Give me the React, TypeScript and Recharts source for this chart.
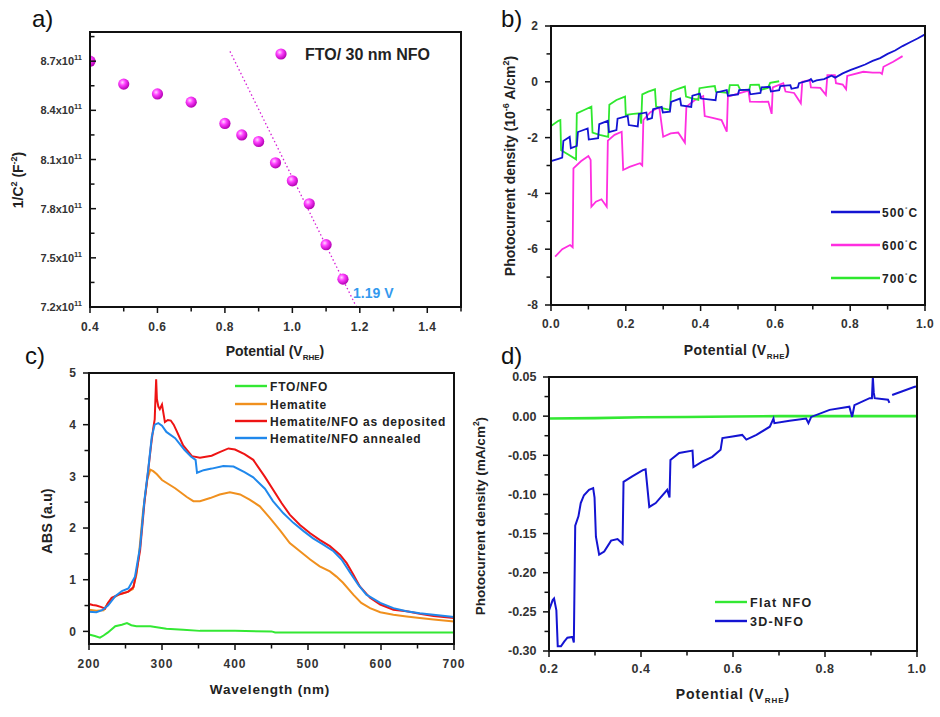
import React from 'react';
import { ComposedChart, LineChart, Line, Scatter, XAxis, YAxis } from 'recharts';

const FONT = '"Liberation Sans", Arial, sans-serif';

// ---------------- Panel a : Mott-Schottky ----------------
const aPotential = [0.4, 0.5, 0.6, 0.7, 0.8, 0.85, 0.9, 0.95, 1.0, 1.05, 1.1, 1.15];
const aInvC2 = [8.70e11, 8.56e11, 8.50e11, 8.45e11, 8.32e11, 8.25e11, 8.21e11, 8.08e11, 7.97e11, 7.83e11, 7.58e11, 7.37e11];
const aFitPotential = [0.815, 1.19];
const aFitInvC2 = [8.76e11, 7.2e11];
const aXMajor = [0.4, 0.6, 0.8, 1.0, 1.2, 1.4];
const aXMinor = [0.5, 0.7, 0.9, 1.1, 1.3, 1.5];
const aYMajor = [7.2e11, 7.5e11, 7.8e11, 8.1e11, 8.4e11, 8.7e11];
const aYMinor = [7.35e11, 7.65e11, 7.95e11, 8.25e11, 8.55e11, 8.85e11];

// ---------------- Panel b : chopped photocurrent (1e-6 A/cm2) ----------------
const b500: number[][] = [
  [0, -2.84], [0.02, -2.76], [0.03, -2.72], [0.033, -2.12], [0.05, -1.97], [0.053, -2.38], [0.069, -2.3],
  [0.072, -1.8], [0.098, -1.67], [0.101, -2.07], [0.126, -2.02], [0.129, -1.52], [0.152, -1.4], [0.155, -1.8],
  [0.175, -1.73], [0.178, -1.32], [0.205, -1.22], [0.208, -1.55], [0.232, -1.6], [0.235, -1.15], [0.255, -1.1],
  [0.258, -1.35], [0.27, -1.3], [0.273, -0.98], [0.296, -0.9], [0.299, -1.1], [0.318, -1.07], [0.321, -0.72],
  [0.345, -0.6], [0.348, -0.85], [0.375, -0.9], [0.378, -0.5], [0.398, -0.42], [0.401, -0.6], [0.44, -0.66],
  [0.443, -0.38], [0.47, -0.3], [0.473, -0.5], [0.5, -0.45], [0.503, -0.3], [0.53, -0.28], [0.533, -0.45],
  [0.56, -0.4], [0.563, -0.2], [0.585, -0.18], [0.588, -0.35], [0.61, -0.3], [0.613, -0.15], [0.64, -0.12],
  [0.643, -0.25], [0.66, -0.2], [0.663, -0.05], [0.69, 0.05], [0.695, 0.1], [0.7, 0.0], [0.71, 0.05],
  [0.73, 0.1], [0.75, 0.22], [0.76, 0.15], [0.78, 0.3], [0.8, 0.42], [0.82, 0.52], [0.84, 0.62], [0.86, 0.75],
  [0.88, 0.85], [0.9, 1.0], [0.92, 1.12], [0.94, 1.28], [0.96, 1.42], [0.98, 1.55], [1.0, 1.7],
];
const b600: number[][] = [
  [0.011, -6.27], [0.03, -6.0], [0.051, -5.85], [0.058, -5.93], [0.06, -3.1], [0.08, -2.85], [0.1, -2.66],
  [0.106, -2.8], [0.108, -4.48], [0.12, -4.3], [0.135, -4.21], [0.149, -4.48], [0.152, -2.11], [0.17, -1.9],
  [0.189, -1.79], [0.193, -3.16], [0.21, -3.05], [0.238, -2.92], [0.244, -3.0], [0.247, -1.37], [0.265, -1.1],
  [0.283, -0.95], [0.29, -0.95], [0.3, -1.97], [0.32, -1.85], [0.34, -1.82], [0.358, -2.18], [0.362, -0.89],
  [0.385, -0.65], [0.407, -0.51], [0.411, -1.23], [0.435, -1.3], [0.456, -1.37], [0.47, -1.79], [0.473, -0.53],
  [0.5, -0.42], [0.528, -0.32], [0.532, -0.71], [0.56, -0.72], [0.581, -0.71], [0.59, -1.15], [0.593, -0.2],
  [0.621, -0.05], [0.627, -0.35], [0.65, -0.4], [0.668, -0.77], [0.672, 0.0], [0.692, 0.06], [0.695, -0.2],
  [0.72, -0.22], [0.735, -0.47], [0.739, 0.24], [0.759, 0.24], [0.762, -0.05], [0.78, -0.1], [0.789, -0.27],
  [0.792, 0.21], [0.835, 0.36], [0.86, 0.33], [0.88, 0.33], [0.885, 0.28], [0.889, 0.54], [0.915, 0.72], [0.94, 0.92],
];
const b700: number[][] = [
  [0, -1.58], [0.02, -1.4], [0.025, -1.37], [0.027, -2.45], [0.045, -2.6], [0.067, -2.78], [0.069, -1.13],
  [0.09, -1.0], [0.108, -0.89], [0.111, -1.82], [0.13, -1.9], [0.153, -1.97], [0.156, -0.82], [0.175, -0.65],
  [0.198, -0.53], [0.2, -1.19], [0.22, -1.15], [0.238, -1.13], [0.241, -1.5], [0.244, -0.45], [0.26, -0.35],
  [0.278, -0.27], [0.281, -0.89], [0.3, -0.95], [0.318, -1.01], [0.321, -0.35], [0.34, -0.25], [0.358, -0.17],
  [0.361, -0.53], [0.38, -0.6], [0.394, -0.65], [0.397, -0.23], [0.42, -0.18], [0.438, -0.15], [0.441, -0.35],
  [0.46, -0.38], [0.475, -0.4], [0.478, -0.12], [0.5, -0.12], [0.506, -0.29], [0.53, -0.3], [0.533, -0.11],
  [0.556, -0.1], [0.56, -0.29], [0.58, -0.22], [0.586, -0.04], [0.61, 0.02],
];
const bXMajor = [0, 0.2, 0.4, 0.6, 0.8, 1.0];
const bXMinor = [0.1, 0.3, 0.5, 0.7, 0.9];
const bYMajor = [-8, -6, -4, -2, 0, 2];
const bYMinor = [-7, -5, -3, -1, 1];

// ---------------- Panel c : absorbance ----------------
const cFtoNfo: number[][] = [
  [200, -0.06], [208, -0.09], [215, -0.12], [220, -0.08], [226, -0.02], [236, 0.1], [245, 0.13], [252, 0.16],
  [258, 0.12], [265, 0.1], [284, 0.1], [306, 0.05], [329, 0.03], [352, 0.01], [400, 0.01], [450, 0.0],
  [455, -0.02], [535, -0.02], [600, -0.02], [700, -0.02],
];
const cHematite: number[][] = [
  [200, 0.42], [210, 0.4], [220, 0.41], [226, 0.55], [233, 0.65], [242, 0.72], [252, 0.76], [260, 0.82],
  [265, 1.1], [268, 1.42], [274, 2.32], [280, 2.95], [284, 3.13], [288, 3.1], [293, 3.04], [300, 2.93],
  [318, 2.77], [334, 2.6], [343, 2.52], [352, 2.52], [366, 2.58], [379, 2.65], [393, 2.69], [407, 2.65],
  [420, 2.55], [434, 2.42], [448, 2.19], [462, 1.95], [475, 1.71], [489, 1.55], [503, 1.39], [516, 1.26],
  [530, 1.16], [539, 1.06], [548, 0.94], [562, 0.71], [573, 0.55], [585, 0.45], [599, 0.37], [617, 0.32],
  [635, 0.29], [653, 0.26], [672, 0.23], [700, 0.19],
];
const cAsDeposited: number[][] = [
  [200, 0.53], [205, 0.51], [210, 0.5], [217, 0.47], [222, 0.44], [226, 0.55], [231, 0.65], [242, 0.72],
  [254, 0.77], [261, 0.86], [265, 1.15], [270, 1.57], [276, 2.5], [281, 3.1], [285, 3.6], [288, 3.93],
  [290, 4.1], [291, 4.5], [292, 4.88], [293, 4.5], [295, 4.35], [297, 4.3], [300, 4.39], [304, 4.05],
  [308, 4.09], [312, 4.08], [316, 4.0], [320, 3.88], [329, 3.6], [341, 3.39], [352, 3.36], [368, 3.4],
  [379, 3.47], [391, 3.54], [400, 3.52], [413, 3.43], [425, 3.32], [441, 2.99], [464, 2.48], [475, 2.26],
  [489, 2.06], [503, 1.9], [516, 1.77], [530, 1.65], [544, 1.48], [553, 1.32], [562, 1.1], [571, 0.87],
  [585, 0.65], [599, 0.52], [617, 0.42], [635, 0.39], [653, 0.34], [672, 0.3], [700, 0.26],
];
const cAnnealed: number[][] = [
  [200, 0.38], [210, 0.37], [218, 0.41], [226, 0.5], [236, 0.68], [245, 0.78], [254, 0.83], [263, 1.06],
  [270, 1.64], [276, 2.55], [281, 3.12], [286, 3.77], [290, 4.0], [295, 4.03], [300, 3.98], [306, 3.86],
  [318, 3.74], [331, 3.51], [340, 3.38], [346, 3.32], [348, 3.07], [357, 3.12], [368, 3.15], [384, 3.2],
  [398, 3.19], [413, 3.08], [425, 2.98], [441, 2.76], [452, 2.52], [466, 2.29], [480, 2.1], [494, 1.94],
  [507, 1.8], [521, 1.68], [535, 1.55], [546, 1.39], [558, 1.13], [569, 0.9], [580, 0.71], [599, 0.55],
  [617, 0.45], [635, 0.39], [653, 0.35], [672, 0.32], [700, 0.28],
];
const cXMajor = [200, 300, 400, 500, 600, 700];
const cXMinor = [250, 350, 450, 550, 650];
const cYMajor = [0, 1, 2, 3, 4, 5];
const cYMinor = [0.5, 1.5, 2.5, 3.5, 4.5];

// ---------------- Panel d : flat vs 3D (mA/cm2) ----------------
const dFlat: number[][] = [
  [0.2, -0.003], [0.3, -0.0025], [0.4, -0.0015], [0.5, -0.001], [0.6, -0.0005], [0.7, 0.0], [0.8, 0.0], [0.9, 0.0], [1.0, 0.0],
];
const d3D: (number | null)[][] = [
  [0.2, -0.248], [0.208, -0.235], [0.211, -0.233], [0.216, -0.248], [0.219, -0.294], [0.226, -0.294],
  [0.233, -0.288], [0.24, -0.283], [0.251, -0.282], [0.254, -0.289], [0.257, -0.14], [0.264, -0.128],
  [0.269, -0.111], [0.276, -0.101], [0.287, -0.094], [0.296, -0.092], [0.299, -0.104], [0.302, -0.154],
  [0.309, -0.177], [0.32, -0.173], [0.335, -0.159], [0.349, -0.157], [0.36, -0.163], [0.362, -0.084],
  [0.381, -0.077], [0.404, -0.069], [0.41, -0.068], [0.418, -0.116], [0.432, -0.111], [0.457, -0.094],
  [0.462, -0.104], [0.464, -0.056], [0.483, -0.047], [0.512, -0.044], [0.514, -0.065], [0.533, -0.058],
  [0.555, -0.052], [0.573, -0.043], [0.577, -0.028], [0.599, -0.026], [0.62, -0.024], [0.629, -0.03],
  [0.651, -0.024], [0.68, -0.0135], [0.688, -0.003], [0.69, -0.009], [0.723, -0.006], [0.759, -0.003],
  [0.764, -0.009], [0.77, -0.001], [0.81, 0.008], [0.853, 0.012], [0.859, -0.001], [0.864, 0.014],
  [0.897, 0.023], [0.902, 0.023], [0.904, 0.05], [0.906, 0.03], [0.908, 0.023], [0.937, 0.021],
  [0.94, 0.017], [0.943, null], [0.946, 0.027], [0.995, 0.0376], [1.0, 0.038],
];
const dXMajor = [0.2, 0.4, 0.6, 0.8, 1.0];
const dXMinor = [0.3, 0.5, 0.7, 0.9];
const dYMajor = [-0.3, -0.25, -0.2, -0.15, -0.1, -0.05, 0, 0.05];
const dYMinor = [-0.275, -0.225, -0.175, -0.125, -0.075, -0.025, 0.025];

// ---------------- helpers ----------------
const pts = (arr: (number | null)[][]) => arr.map(([x, y]) => ({ x, y }));
const zip = (xs: number[], ys: number[]) => xs.map((x, i) => ({ x, y: ys[i] }));
const isIn = (arr: number[], v: number) => arr.some((m) => Math.abs(m - v) <= 1e-6 * Math.max(1, Math.abs(m)));
const sortAll = (a: number[], b: number[]) => [...a, ...b].sort((p, q) => p - q);
const fmtMajor = (majors: number[], f: (v: number) => string) => (v: number) => (isIn(majors, v) ? f(v) : '');

const TICK_STYLE = { fontFamily: FONT, fontWeight: 700, fontSize: 12, fill: '#333' };

type Box = { l: number; r: number; t: number; b: number; xd: number[]; yd: number[] };
const BOX_A: Box = { l: 90, r: 461, t: 32, b: 307, xd: [0.4, 1.5], yd: [7.2e11, 8.878e11] };
const BOX_B: Box = { l: 551, r: 925, t: 26, b: 305, xd: [0, 1], yd: [-8, 2] };
const BOX_C: Box = { l: 89, r: 454, t: 373, b: 644, xd: [200, 700], yd: [-0.244, 5] };
const BOX_D: Box = { l: 549, r: 917, t: 377, b: 651, xd: [0.2, 1.0], yd: [-0.3, 0.05] };

function ATick(props: any) {
  const x = Number(props.x);
  const y = Number(props.y);
  const v = Number(props.payload.value);
  if (!isIn(aYMajor, v)) return <g />;
  return (
    <text x={x} y={y + 4} textAnchor="end" fontFamily={FONT} fontWeight={700} fontSize={11} fill="#333">
      {(v / 1e11).toFixed(1)}x10<tspan dy={-5} fontSize={7.5}>11</tspan>
    </text>
  );
}

// ---------------- panels ----------------
function PanelA() {
  return (
    <ComposedChart data={zip(aPotential, aInvC2)} width={470} height={358} margin={{ top: 32, right: 9, bottom: 0, left: 0 }}>
      <XAxis dataKey="x" type="number" domain={BOX_A.xd} allowDataOverflow ticks={sortAll(aXMajor, aXMinor)} interval={0}
        tickSize={4} tickMargin={11} axisLine={false} tickLine={false} height={51}
        tick={{ ...TICK_STYLE, letterSpacing: 0.5 }} tickFormatter={fmtMajor(aXMajor, (v) => v.toFixed(1))} />
      <YAxis dataKey="y" type="number" domain={BOX_A.yd} allowDataOverflow ticks={sortAll(aYMajor, aYMinor)} interval={0}
        tickSize={4} tickMargin={4} axisLine={false} tickLine={false} width={90} tick={<ATick />} />
      <Line data={zip(aFitPotential, aFitInvC2)} dataKey="y" type="linear" stroke="#d61fd6" strokeWidth={1.3}
        strokeDasharray="1.5 2.5" dot={false} isAnimationActive={false} />
      <Scatter dataKey="y" isAnimationActive={false}
        shape={(p: any) => <circle cx={p.cx} cy={p.cy} r={5.6} fill="url(#ballGrad)" />} />
    </ComposedChart>
  );
}

function PanelB() {
  return (
    <LineChart data={pts(b500)} width={470} height={358} margin={{ top: 26, right: 15, bottom: 0, left: 0 }}>
      <XAxis dataKey="x" type="number" domain={BOX_B.xd} ticks={sortAll(bXMajor, bXMinor)} interval={0}
        tickSize={4} tickMargin={10.5} axisLine={false} tickLine={false} height={53}
        tick={{ ...TICK_STYLE, letterSpacing: 0.5 }} tickFormatter={fmtMajor(bXMajor, (v) => v.toFixed(1))} />
      <YAxis type="number" domain={BOX_B.yd} ticks={sortAll(bYMajor, bYMinor)} interval={0}
        tickSize={4} tickMargin={9} axisLine={false} tickLine={false} width={81}
        tick={TICK_STYLE} tickFormatter={fmtMajor(bYMajor, (v) => String(v))} />
      <Line data={pts(b600)} dataKey="y" type="linear" stroke="#ff2ee0" strokeWidth={1.8} dot={false} isAnimationActive={false} />
      <Line data={pts(b700)} dataKey="y" type="linear" stroke="#2ee82e" strokeWidth={1.8} dot={false} isAnimationActive={false} />
      <Line dataKey="y" type="linear" stroke="#1414d2" strokeWidth={1.8} dot={false} isAnimationActive={false} />
    </LineChart>
  );
}

function PanelC() {
  return (
    <LineChart width={470} height={359} margin={{ top: 15, right: 16, bottom: 0, left: 0 }}>
      <XAxis dataKey="x" type="number" domain={BOX_C.xd} ticks={sortAll(cXMajor, cXMinor)} interval={0}
        tickSize={4} tickMargin={11.5} axisLine={false} tickLine={false} height={73}
        tick={{ ...TICK_STYLE, letterSpacing: 1 }} tickFormatter={fmtMajor(cXMajor, (v) => String(v))} />
      <YAxis type="number" domain={BOX_C.yd} ticks={sortAll(cYMajor, cYMinor)} interval={0}
        tickSize={4} tickMargin={9} axisLine={false} tickLine={false} width={89}
        tick={TICK_STYLE} tickFormatter={fmtMajor(cYMajor, (v) => String(v))} />
      <Line data={pts(cFtoNfo)} dataKey="y" type="linear" stroke="#33e833" strokeWidth={2} dot={false} isAnimationActive={false} />
      <Line data={pts(cHematite)} dataKey="y" type="linear" stroke="#f0901e" strokeWidth={2} dot={false} isAnimationActive={false} />
      <Line data={pts(cAsDeposited)} dataKey="y" type="linear" stroke="#ee1414" strokeWidth={2} dot={false} isAnimationActive={false} />
      <Line data={pts(cAnnealed)} dataKey="y" type="linear" stroke="#2088ec" strokeWidth={2} dot={false} isAnimationActive={false} />
    </LineChart>
  );
}

function PanelD() {
  return (
    <LineChart data={pts(d3D)} width={470} height={359} margin={{ top: 19, right: 23, bottom: 0, left: 0 }}>
      <XAxis dataKey="x" type="number" domain={BOX_D.xd} ticks={sortAll(dXMajor, dXMinor)} interval={0}
        tickSize={4} tickMargin={9.5} axisLine={false} tickLine={false} height={66}
        tick={{ ...TICK_STYLE, fontSize: 12.5, letterSpacing: 0.5 }} tickFormatter={fmtMajor(dXMajor, (v) => v.toFixed(1))} />
      <YAxis type="number" domain={BOX_D.yd} ticks={sortAll(dYMajor, dYMinor)} interval={0}
        tickSize={4} tickMargin={8.5} axisLine={false} tickLine={false} width={79}
        tick={{ ...TICK_STYLE, fontSize: 12.5 }} tickFormatter={fmtMajor(dYMajor, (v) => v.toFixed(2))} />
      <Line data={pts(dFlat)} dataKey="y" type="linear" stroke="#33e833" strokeWidth={2.6} dot={false} isAnimationActive={false} />
      <Line dataKey="y" type="linear" stroke="#1414d2" strokeWidth={2} dot={false} isAnimationActive={false} />
    </LineChart>
  );
}

// tick marks as small filled rectangles, placed from the tick value arrays
function TickMarks({ bx, xTicks, xMajors, yTicks, yMajors, yInward }: {
  bx: Box; xTicks: number[]; xMajors: number[]; yTicks: number[]; yMajors: number[]; yInward?: boolean;
}) {
  const sx = (v: number) => bx.l + ((v - bx.xd[0]) / (bx.xd[1] - bx.xd[0])) * (bx.r - bx.l);
  const sy = (v: number) => bx.b - ((v - bx.yd[0]) / (bx.yd[1] - bx.yd[0])) * (bx.b - bx.t);
  return (
    <g>
      {xTicks.map((v) => {
        const len = isIn(xMajors, v) ? 5 : 3.5;
        return <rect key={'x' + v} x={sx(v) - 0.75} y={bx.b} width={1.5} height={len + 1} fill="#111" />;
      })}
      {yTicks.map((v) => {
        const len = isIn(yMajors, v) ? 5 : 3.5;
        return (
          <rect key={'y' + v} x={yInward ? bx.l : bx.l - len - 1} y={sy(v) - 0.75} width={len + 1} height={1.5} fill="#111" />
        );
      })}
    </g>
  );
}

// plot frames as bordered boxes
function FrameBox({ bx }: { bx: Box }) {
  return (
    <div
      style={{
        position: 'absolute',
        left: bx.l - 1,
        top: bx.t - 1,
        width: bx.r - bx.l + 2,
        height: bx.b - bx.t + 2,
        border: '2px solid #111',
        boxSizing: 'border-box',
        pointerEvents: 'none',
      }}
    />
  );
}

const T = { fontFamily: FONT, fontWeight: 700, fill: '#222' } as const;

function Overlay() {
  const sub = (s: string) => (
    <tspan dy={4} fontSize={8}>
      {s}
    </tspan>
  );
  return (
    <svg width={940} height={717} style={{ position: 'absolute', left: 0, top: 0, pointerEvents: 'none' }}>
      <defs>
        <radialGradient id="ballGrad" cx="38%" cy="35%" r="65%">
          <stop offset="0%" stopColor="#ffd6ff" />
          <stop offset="40%" stopColor="#ff40ff" />
          <stop offset="100%" stopColor="#b400b4" />
        </radialGradient>
      </defs>
      {/* hide the part of the first point lying left of the frame, as in the reference */}
      <rect x={82} y={52} width={7.5} height={18} fill="#fff" />

      <TickMarks bx={BOX_A} xTicks={sortAll(aXMajor, aXMinor)} xMajors={aXMajor} yTicks={sortAll(aYMajor, aYMinor)} yMajors={aYMajor} yInward />
      <TickMarks bx={BOX_B} xTicks={sortAll(bXMajor, bXMinor)} xMajors={bXMajor} yTicks={sortAll(bYMajor, bYMinor)} yMajors={bYMajor} />
      <TickMarks bx={BOX_C} xTicks={sortAll(cXMajor, cXMinor)} xMajors={cXMajor} yTicks={sortAll(cYMajor, cYMinor)} yMajors={cYMajor} />
      <TickMarks bx={BOX_D} xTicks={sortAll(dXMajor, dXMinor)} xMajors={dXMajor} yTicks={sortAll(dYMajor, dYMinor)} yMajors={dYMajor} />

      <text x={32} y={27} fontFamily={FONT} fontSize={24} fill="#111">a)</text>
      <text x={501} y={27} fontFamily={FONT} fontSize={24} fill="#111">b)</text>
      <text x={25} y={364} fontFamily={FONT} fontSize={24} fill="#111">c)</text>
      <text x={501} y={364} fontFamily={FONT} fontSize={24} fill="#111">d)</text>

      <text {...T} fontSize={14} textAnchor="middle" transform="rotate(-90 23 180)" x={23} y={180}>
        1/C<tspan dy={-6} fontSize={9}>2</tspan>
        <tspan dy={6}> (F</tspan>
        <tspan dy={-6} fontSize={9}>-2</tspan>
        <tspan dy={6}>)</tspan>
      </text>
      <text {...T} fontSize={14} textAnchor="middle" x={275} y={356}>
        Potential (V{sub('RHE')}<tspan dy={-4}>)</tspan>
      </text>
      <circle cx={281} cy={54} r={5.6} fill="url(#ballGrad)" />
      <text {...T} fontSize={16} x={305} y={60}>FTO/ 30 nm NFO</text>
      <text fontFamily={FONT} fontWeight={700} fontSize={14} fill="#3399ee" x={353} y={298}>1.19 V</text>

      <text {...T} fontSize={14} textAnchor="middle" transform="rotate(-90 515 166)" x={515} y={166}>
        Photocurrent density (10<tspan dy={-6} fontSize={9}>-6</tspan>
        <tspan dy={6}> A/cm</tspan>
        <tspan dy={-6} fontSize={9}>2</tspan>
        <tspan dy={6}>)</tspan>
      </text>
      <text {...T} fontSize={14} textAnchor="middle" x={737} y={355} letterSpacing={0.5}>
        Potential (V{sub('RHE')}<tspan dy={-4}>)</tspan>
      </text>
      {[
        { c: '#1414d2', t: '500', y: 212 },
        { c: '#ff2ee0', t: '600', y: 245 },
        { c: '#2ee82e', t: '700', y: 278 },
      ].map((e) => (
        <g key={e.t}>
          <line x1={831} x2={880} y1={e.y} y2={e.y} stroke={e.c} strokeWidth={2.4} />
          <text {...T} fontSize={12} letterSpacing={1} x={882} y={e.y + 5}>
            {e.t}
            <tspan dy={-6} fontSize={6}>°</tspan>
            <tspan dy={6}>C</tspan>
          </text>
        </g>
      ))}

      <text {...T} fontSize={14.5} textAnchor="middle" transform="rotate(-90 52 521)" x={52} y={521}>
        ABS (a.u)
      </text>
      <text {...T} fontSize={13.5} textAnchor="middle" x={270} y={694} letterSpacing={0.8}>
        Wavelength (nm)
      </text>
      {[
        { c: '#33e833', t: 'FTO/NFO', y: 386 },
        { c: '#f0901e', t: 'Hematite', y: 404 },
        { c: '#ee1414', t: 'Hematite/NFO as deposited', y: 421 },
        { c: '#2088ec', t: 'Hematite/NFO annealed', y: 438 },
      ].map((e) => (
        <g key={e.t}>
          <line x1={235} x2={267} y1={e.y} y2={e.y} stroke={e.c} strokeWidth={2.4} />
          <text {...T} fontSize={12} letterSpacing={0.8} x={270} y={e.y + 4.5}>
            {e.t}
          </text>
        </g>
      ))}

      <text {...T} fontSize={13.5} textAnchor="middle" transform="rotate(-90 485 516)" x={485} y={516}>
        Photocurrent density (mA/cm<tspan dy={-6} fontSize={8.5}>2</tspan>
        <tspan dy={6}>)</tspan>
      </text>
      <text {...T} fontSize={14} textAnchor="middle" x={733} y={699} letterSpacing={1}>
        Potential (V{sub('RHE')}<tspan dy={-4}>)</tspan>
      </text>
      {[
        { c: '#33e833', t: 'Flat NFO', y: 602 },
        { c: '#1414d2', t: '3D-NFO', y: 621 },
      ].map((e) => (
        <g key={e.t}>
          <line x1={715} x2={747} y1={e.y} y2={e.y} stroke={e.c} strokeWidth={2.4} />
          <text {...T} fontSize={12.5} letterSpacing={1.3} x={750} y={e.y + 4.5}>
            {e.t}
          </text>
        </g>
      ))}
    </svg>
  );
}

export default function App() {
  return (
    <div style={{ position: 'absolute', left: 0, top: 0, width: 940, height: 717, background: '#fff', fontFamily: FONT }}>
      <div style={{ position: 'absolute', left: 0, top: 0 }}>
        <PanelA />
      </div>
      <div style={{ position: 'absolute', left: 470, top: 0 }}>
        <PanelB />
      </div>
      <div style={{ position: 'absolute', left: 0, top: 358 }}>
        <PanelC />
      </div>
      <div style={{ position: 'absolute', left: 470, top: 358 }}>
        <PanelD />
      </div>
      <Overlay />
      <FrameBox bx={BOX_A} />
      <FrameBox bx={BOX_B} />
      <FrameBox bx={BOX_C} />
      <FrameBox bx={BOX_D} />
    </div>
  );
}
